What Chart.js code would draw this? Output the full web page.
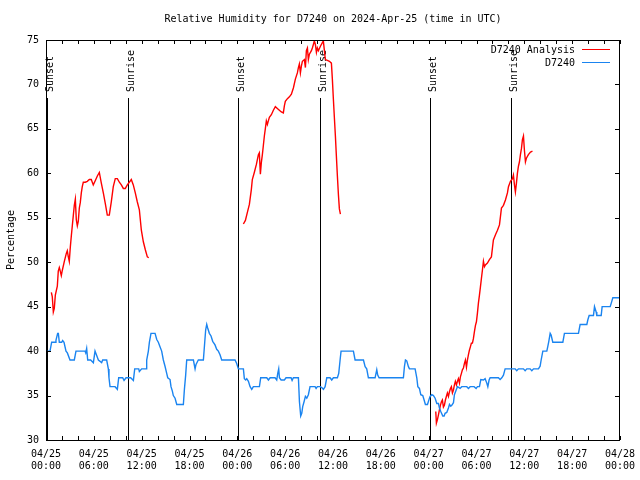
<!DOCTYPE html>
<html>
<head>
<meta charset="utf-8">
<script src="https://cdn.jsdelivr.net/npm/chart.js@4"></script>
<style>
  html, body { margin: 0; padding: 0; background: #fff; }
</style>
</head>
<body>
<canvas id="chart" width="640" height="480"></canvas>
<script>
/* ---- Data (hours since 04/25 00:00 UTC) ---- */
const redHours1 = [0.67,0.79,0.92,1.04,1.17,1.42,1.54,1.67,1.79,1.92,2.05,2.30,2.55,2.67,2.80,2.92,3.05,3.17,3.30,3.43,3.55,3.68,3.80,3.93,4.05,4.18,4.30,4.43,4.55,4.68,4.93,5.18,5.43,5.68,5.93,6.19,6.44,6.69,6.94,7.19,7.44,7.69,7.94,8.19,8.44,8.69,8.95,9.20,9.45,9.70,9.95,10.20,10.45,10.70,10.95,11.20,11.45,11.71,11.96,12.21,12.46,12.71,12.89];
const redValues1 = [46.6,46.1,44.4,44.8,46.3,47.3,49.0,49.4,49.0,48.5,49.1,50.1,51.0,51.3,50.6,50.1,51.7,52.9,54.1,55.3,56.4,57.1,54.8,54.1,54.6,56.1,56.7,57.8,58.5,59.0,59.0,59.1,59.3,59.3,58.7,59.2,59.7,60.1,58.9,57.8,56.6,55.3,55.3,56.8,58.5,59.4,59.4,59.0,58.7,58.3,58.3,58.7,59.0,59.3,58.7,57.8,56.8,55.9,53.6,52.3,51.4,50.6,50.5];

const redHours2 = [24.76,25.01,25.26,25.51,25.76,25.88,26.13,26.39,26.64,26.76,26.89,27.01,27.14,27.26,27.39,27.51,27.64,27.77,27.89,28.02,28.27,28.52,28.77,29.02,29.27,29.52,29.77,29.90,30.02,30.28,30.53,30.78,31.03,31.28,31.53,31.66,31.78,31.91,32.04,32.16,32.41,32.54,32.66,32.79,32.91,33.04,33.29,33.41,33.54,33.66,33.79,33.92,34.04,34.17,34.42,34.67,34.79,34.92,35.04,35.29,35.55,35.80,35.92,36.05,36.17,36.30,36.42,36.55,36.68,36.80,36.93];
const redValues2 = [54.3,54.7,55.6,56.5,58.2,59.3,60.1,61.0,62.1,62.3,59.9,61.2,62.1,63.1,64.2,65.0,65.9,65.5,65.9,66.3,66.6,67.1,67.5,67.3,67.1,66.9,66.8,67.6,68.1,68.4,68.6,68.9,69.6,70.6,71.3,71.9,72.3,71.3,72.1,72.6,72.8,71.9,73.8,74.1,72.8,73.4,73.8,74.1,74.5,74.9,74.5,73.6,74.1,73.8,74.3,74.7,74.9,73.8,72.8,72.7,72.6,72.4,70.6,68.3,66.3,64.2,62.0,59.7,57.6,56.0,55.4];

const redHours3 = [48.89,48.97,49.10,49.22,49.35,49.47,49.60,49.72,49.85,49.97,50.10,50.22,50.35,50.48,50.60,50.73,50.85,50.98,51.10,51.23,51.35,51.48,51.61,51.73,51.86,51.98,52.11,52.23,52.36,52.48,52.61,52.74,52.86,52.99,53.11,53.24,53.36,53.49,53.61,53.74,53.87,53.99,54.12,54.24,54.37,54.49,54.62,54.74,54.87,55.00,55.12,55.37,55.62,55.87,56.00,56.12,56.38,56.63,56.88,57.00,57.13,57.38,57.63,57.88,58.01,58.26,58.51,58.63,58.76,58.88,59.01,59.13,59.26,59.39,59.51,59.64,59.76,59.89,60.01,60.14,60.26,60.51,60.77,61.02];
const redValues3 = [33.2,31.9,32.3,32.8,33.4,33.9,34.3,34.5,33.7,33.9,34.5,34.9,35.3,34.9,35.4,35.8,36.0,35.3,35.6,36.2,36.6,36.2,36.6,36.9,36.4,37.1,37.5,37.9,38.1,38.6,39.0,38.2,39.0,39.6,40.1,40.5,40.9,40.9,41.4,42.2,42.9,43.3,44.3,45.4,46.3,47.2,48.2,49.1,50.1,49.5,49.7,49.9,50.3,50.6,51.6,52.5,53.1,53.6,54.2,55.1,56.1,56.4,57.0,57.8,58.5,59.1,59.4,59.8,58.7,57.9,58.9,60.0,60.8,61.3,62.1,62.8,63.8,64.2,62.6,61.3,61.7,62.1,62.4,62.5];

const blueHours = [
  0.17,0.50,0.71,1.13,1.25,1.46,1.55,1.67,1.97,2.09,2.26,2.51,2.68,3.01,3.55,3.76,4.89,4.98,5.10,5.23,5.60,5.94,6.15,6.57,6.98,7.11,7.61,7.82,7.90,8.03,8.66,8.95,9.12,9.62,9.79,10.04,10.62,10.96,11.13,11.63,11.71,12.00,12.55,12.63,12.84,12.97,13.17,13.68,13.89,14.09,14.30,14.51,14.72,14.93,15.14,15.27,15.56,15.68,15.85,15.97,16.19,16.40,17.23,17.36,17.52,17.65,18.49,18.70,18.82,18.99,19.11,19.74,19.91,20.03,20.16,20.28,20.49,20.70,20.91,21.20,21.41,21.62,21.83,22.04,23.71,23.92,24.13,
  24.26,24.76,24.88,25.05,25.18,25.39,25.60,25.81,26.01,26.77,26.93,27.14,27.69,27.90,28.11,28.73,28.94,29.07,29.19,29.28,29.49,29.90,30.11,30.74,30.87,31.03,31.66,31.79,31.95,32.08,32.20,32.37,32.54,32.71,32.91,33.12,33.75,33.88,34.04,34.38,34.59,34.80,35.01,35.22,35.63,35.84,36.05,36.55,36.72,36.89,37.01,38.56,38.77,39.82,40.03,40.23,40.44,41.28,41.49,41.61,41.78,44.83,44.96,45.09,45.25,45.46,45.59,46.30,46.51,46.64,46.84,47.01,47.26,47.43,47.59,47.85,48.06,
  48.18,48.39,48.60,48.81,49.02,49.23,49.35,49.52,49.77,49.94,50.06,50.27,50.48,50.61,50.77,50.90,51.11,51.23,51.44,51.61,51.94,52.15,52.78,52.99,53.20,53.70,53.95,54.12,54.37,54.54,54.87,55.08,55.29,55.42,55.58,55.71,56.75,56.96,57.17,57.38,57.59,57.88,58.85,59.05,59.26,59.89,60.10,60.31,60.73,60.94,61.15,61.77,61.98,62.11,62.32,62.82,62.94,63.07,63.24,63.36,63.57,64.83,65.03,66.79,67.00,67.84,67.96,68.13,68.67,68.80,69.01,69.09,69.64,69.76,70.77,70.97,71.10,71.89
];
const blueValues = [
  40,40,41,41,41.2,42,42,41,41,41.2,41,40,39.8,39,39,40,40,39.8,40.3,39,39,38.7,40,39,38.7,39,39,38,37,36,36,35.7,37,37,36.7,37,37,36.7,38,38,37.7,38,38,39,40,41,42,42,41.3,41,40.5,40,39,38.3,37.5,37,36.8,36,35.5,35,34.7,34,34,35.7,37.3,39,39,38,38.5,38.8,39,39,41,42.4,43,42.6,42,41.7,41.1,40.7,40.2,40,39.6,39,39,38.6,38,
  38,38,36.9,36.75,36.9,36.6,36,35.7,36,36,37,37,37,36.75,37,37,36.75,37.5,38,37,36.75,36.75,37,37,36.7,37,37,34.3,32.7,33,33.75,34.3,34.9,34.7,35.1,36,36,35.8,36,36,35.9,35.7,36,37,37,36.75,37,37,37.5,39,40,40,39,39,38.25,38,37,37,37.9,37.3,37,37,38.25,39,38.9,38.25,38,38,37,36,35.8,35.1,35,34.5,34,34,34.6,
  34.9,35.1,35.0,34.7,34.1,34.1,33.6,33.2,32.7,32.7,33.0,33.1,33.6,34.0,33.8,33.9,34.2,35.1,35.6,36,35.8,36,36,35.8,36,36,35.8,36,36,36.8,36.75,36.9,36.4,36.0,36.75,37,37,36.8,37,37.3,38,38,38,37.8,38,38,37.8,38,38,37.8,38,38,38.3,39,40,40,40.5,41.1,42,41.8,41,41,42,42,43,43,43.5,44,44,45,44.4,44,44,45,45,45.6,46,46
];

const sunHours = [0.08, 10.33, 24.13, 34.38, 48.18, 58.34];
const sunLabels = ["Sunset", "Sunrise", "Sunset", "Sunrise", "Sunset", "Sunrise"];

const xTickLabels = [
  ["04/25", "00:00"], ["04/25", "06:00"], ["04/25", "12:00"], ["04/25", "18:00"],
  ["04/26", "00:00"], ["04/26", "06:00"], ["04/26", "12:00"], ["04/26", "18:00"],
  ["04/27", "00:00"], ["04/27", "06:00"], ["04/27", "12:00"], ["04/27", "18:00"],
  ["04/28", "00:00"],
];

const TITLE = "Relative Humidity for D7240 on 2024-Apr-25 (time in UTC)";
const Y_TITLE = "Percentage";
const RED = "#ff0000";
const BLUE = "#1a84f0";
const FONT_FAMILY = '"DejaVu Sans Mono", monospace';
const FONT = "10px " + FONT_FAMILY;

const pts = (xs, ys) => xs.map((h, i) => ({ x: h, y: ys[i] }));

/* ---- gnuplot-like decorations: frame, inward ticks, sun lines, legend ---- */
const gnuplotDecor = {
  id: "gnuplotDecor",
  beforeDatasetsDraw(chart) {
    const { ctx, chartArea: a, scales: { x } } = chart;
    ctx.save();
    ctx.strokeStyle = "#000";
    ctx.fillStyle = "#000";
    ctx.lineWidth = 1;
    ctx.font = FONT;
    sunHours.forEach((h, i) => {
      const px = Math.round(x.getPixelForValue(h)) + 0.5;
      ctx.beginPath();
      ctx.moveTo(px, a.bottom);
      ctx.lineTo(px, a.top + 58);
      ctx.stroke();
      ctx.save();
      ctx.translate(px + 5, a.top + 52);
      ctx.rotate(-Math.PI / 2);
      ctx.textAlign = "left";
      ctx.textBaseline = "alphabetic";
      ctx.fillText(sunLabels[i], 0, 0);
      ctx.restore();
    });
    ctx.restore();
  },
  afterDatasetsDraw(chart) {
    const { ctx, chartArea: a, scales: { x, y } } = chart;
    ctx.save();
    ctx.strokeStyle = "#000";
    ctx.lineWidth = 1;
    // frame
    ctx.strokeRect(a.left + 0.5, a.top + 0.5, a.right - a.left - 1, a.bottom - a.top);
    // inward ticks
    ctx.beginPath();
    for (let h = 0; h <= 72; h += 2) {
      const px = Math.round(x.getPixelForValue(h)) + 0.5;
      ctx.moveTo(px, a.bottom); ctx.lineTo(px, a.bottom - 4);
      ctx.moveTo(px, a.top); ctx.lineTo(px, a.top + 4);
    }
    for (let v = 30; v <= 75; v += 5) {
      const py = Math.round(y.getPixelForValue(v)) + 0.5;
      ctx.moveTo(a.left, py); ctx.lineTo(a.left + 5, py);
      ctx.moveTo(a.right, py); ctx.lineTo(a.right - 5, py);
    }
    ctx.stroke();
    // legend
    ctx.font = FONT;
    ctx.fillStyle = "#000";
    ctx.textAlign = "right";
    ctx.textBaseline = "middle";
    const items = [
      { label: chart.data.datasets[1].label, color: RED },
      { label: chart.data.datasets[0].label, color: BLUE },
    ];
    items.forEach((it, i) => {
      const ly = a.top + 10 + i * 12.5;
      ctx.fillText(it.label, a.right - 45, ly + 0.5);
      ctx.strokeStyle = it.color;
      ctx.beginPath();
      ctx.moveTo(a.right - 38, Math.round(ly) - 0.5);
      ctx.lineTo(a.right - 10, Math.round(ly) - 0.5);
      ctx.stroke();
    });
    ctx.restore();
  },
  afterDraw(chart) {
    const { ctx, chartArea: a } = chart;
    ctx.save();
    ctx.font = FONT;
    ctx.fillStyle = "#000";
    ctx.textAlign = "center";
    ctx.textBaseline = "middle";
    ctx.fillText(TITLE, (a.left + a.right) / 2, 19);
    ctx.translate(14, (a.top + a.bottom) / 2);
    ctx.rotate(-Math.PI / 2);
    ctx.textBaseline = "alphabetic";
    ctx.fillText(Y_TITLE, 0, 0);
    ctx.restore();
  },
};

const lineStyle = (color) => ({
  borderColor: color,
  backgroundColor: color,
  borderWidth: 1.4,
  pointRadius: 0,
  tension: 0,
  fill: false,
});

new Chart(document.getElementById("chart"), {
  type: "line",
  data: {
    datasets: [
      { label: "D7240", data: pts(blueHours, blueValues), order: 0, ...lineStyle(BLUE) },
      { label: "D7240 Analysis", data: pts(redHours1, redValues1), order: 1, ...lineStyle(RED) },
      { label: "D7240 Analysis", data: pts(redHours2, redValues2), order: 1, ...lineStyle(RED) },
      { label: "D7240 Analysis", data: pts(redHours3, redValues3), order: 1, ...lineStyle(RED) },
    ],
  },
  options: {
    responsive: false,
    animation: false,
    devicePixelRatio: 1,
    layout: { padding: { top: 40, right: 20, left: 0, bottom: 0 } },
    plugins: {
      legend: { display: false },
      title: { display: false },
      tooltip: { enabled: false },
    },
    scales: {
      x: {
        type: "linear",
        min: 0,
        max: 72,
        grid: { display: false, drawTicks: false },
        border: { display: false },
        ticks: {
          stepSize: 6,
          autoSkip: false,
          maxRotation: 0,
          padding: 8,
          color: "#000",
          font: { family: FONT_FAMILY, size: 10, lineHeight: 1.2 },
          callback: (v) => xTickLabels[Math.round(v / 6)],
        },
        afterFit: (s) => {
          s.height = 40;
          s.paddingLeft = 0;
          s.paddingRight = 0;
        },
      },
      y: {
        min: 30,
        max: 75,
        grid: { display: false, drawTicks: false },
        border: { display: false },
        ticks: {
          stepSize: 5,
          padding: 7,
          color: "#000",
          font: { family: FONT_FAMILY, size: 10 },
        },
        afterFit: (s) => {
          s.width = 46;
          s.paddingTop = 0;
          s.paddingBottom = 0;
        },
      },
    },
  },
  plugins: [gnuplotDecor],
});
</script>
</body>
</html>
